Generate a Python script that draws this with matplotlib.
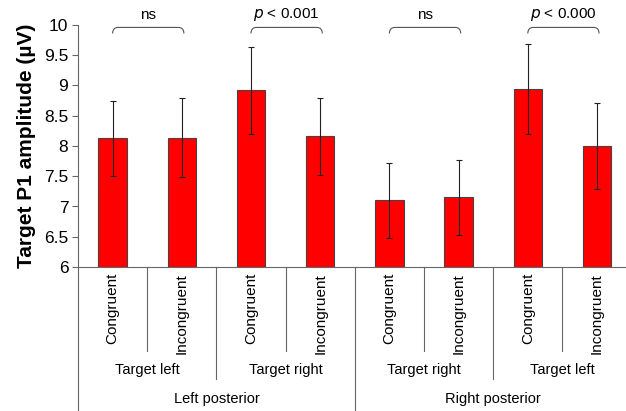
# Target P1 amplitude bar chart with grouped category axis
import matplotlib
matplotlib.use("Agg")
import matplotlib.pyplot as plt
from matplotlib.path import Path
from matplotlib.patches import PathPatch
from matplotlib.transforms import blended_transform_factory

plt.rcParams["font.family"] = ["Liberation Sans", "DejaVu Sans"]

# Data
conditions = ["Congruent", "Incongruent"] * 4
targets = ["Target left", "Target right", "Target right", "Target left"]
regions = ["Left posterior", "Right posterior"]
means = [8.13, 8.14, 8.92, 8.16, 7.10, 7.15, 8.94, 8.00]
errors = [0.62, 0.65, 0.72, 0.64, 0.62, 0.62, 0.74, 0.71]
stats = ["ns", "$\\it{p}$ < 0.001", "ns", "$\\it{p}$ < 0.000"]

fig = plt.figure(figsize = (6.26, 4.11), dpi = 100)
ax = fig.add_axes([78 / 626, 144 / 411, 553.6 / 626, 242 / 411])

x = range(len(means))
ax.bar(x, [m - 6 for m in means], bottom = 6, width = 0.41, color = "#ff0000",
       edgecolor = "#444444", linewidth = 0.8, zorder = 2)
ax.errorbar(x, means, yerr = errors, fmt = "none", ecolor = "#222222",
            elinewidth = 0.8, capsize = 2, capthick = 0.8, zorder = 3)

ax.set_xlim(-0.5, 7.5)
ax.set_ylim(6, 10)
ax.set_yticks([6, 6.5, 7, 7.5, 8, 8.5, 9, 9.5, 10])
ax.set_yticklabels(["6", "6.5", "7", "7.5", "8", "8.5", "9", "9.5", "10"])
ax.tick_params(axis = "y", labelsize = 12.5, length = 4, color = "#666666", pad = 3)
ax.set_xticks([])
for side in ["top", "right"]:
    ax.spines[side].set_visible(False)
for side in ["left", "bottom"]:
    ax.spines[side].set_color("#666666")
    ax.spines[side].set_linewidth(0.8)
ax.set_ylabel("Target P1 amplitude (µV)", fontsize = 15, fontweight = "bold", labelpad = 6)

# Category axis below the plot
trans = blended_transform_factory(ax.transData, ax.transAxes)
line_kw = dict(color = "#666666", linewidth = 0.8, transform = trans, clip_on = False)
for i, name in enumerate(conditions):
    ax.text(i, -0.025, name, rotation = 90, ha = "center", va = "top",
            fontsize = 11, transform = trans)
for i in range(1, 8):
    if i == 4:
        ax.plot([i - 0.5, i - 0.5], [0, -0.6], **line_kw)
    elif i % 2 == 0:
        ax.plot([i - 0.5, i - 0.5], [0, -0.463], **line_kw)
    else:
        ax.plot([i - 0.5, i - 0.5], [0, -0.347], **line_kw)
ax.plot([-0.5, -0.5], [0, -0.6], **line_kw)
for j, name in enumerate(targets):
    ax.text(2 * j + 0.5, -0.426, name, ha = "center", va = "center",
            fontsize = 10.5, transform = trans)
for k, name in enumerate(regions):
    ax.text(4 * k + 1.5, -0.545, name, ha = "center", va = "center",
            fontsize = 10.5, transform = trans)

# Significance brackets
for j, label in enumerate(stats):
    x1, x2 = 2 * j, 2 * j + 1.03
    y0, y1 = 9.86, 9.96
    verts = [(x1, y0), (x1, y1), (x1 + 0.08, y1), (x2 - 0.08, y1),
             (x2, y1), (x2, y0)]
    codes = [Path.MOVETO, Path.CURVE3, Path.CURVE3, Path.LINETO,
             Path.CURVE3, Path.CURVE3]
    ax.add_patch(PathPatch(Path(verts, codes), fill = False, edgecolor = "#555555",
                           linewidth = 0.8, clip_on = False))
    ax.text((x1 + x2) / 2, 10.17, label, ha = "center", va = "center",
            fontsize = 11, clip_on = False)

plt.savefig("out.png", dpi = 100)
